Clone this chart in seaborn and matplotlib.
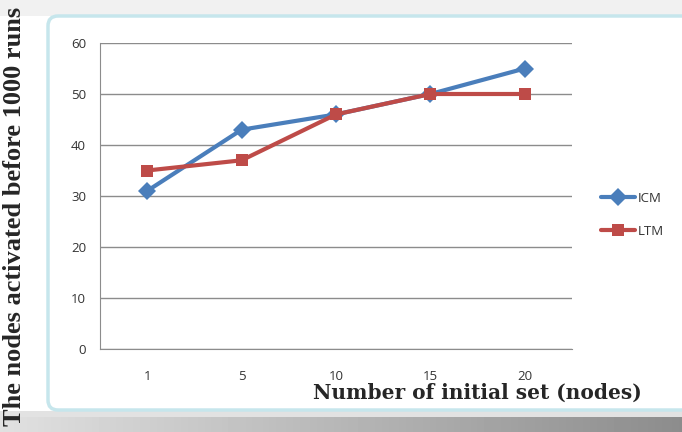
import numpy as np
import pandas as pd
import matplotlib
matplotlib.use("Agg")
import matplotlib.pyplot as plt
from matplotlib.patches import FancyBboxPatch, Rectangle
import seaborn as sns

# chart data
initial_set = ["1", "5", "10", "15", "20"]
icm_values = [31, 43, 46, 50, 55]
ltm_values = [35, 37, 46, 50, 50]
y_ticks = [0, 10, 20, 30, 40, 50, 60]

df = pd.DataFrame({
    "set": initial_set * 2,
    "value": icm_values + ltm_values,
    "model": ["ICM"] * len(icm_values) + ["LTM"] * len(ltm_values),
})

sns.set_style("white")
plt.rcParams["font.family"] = ["Open Sans", "DejaVu Sans"]

W, H = 682, 432
fig = plt.figure(figsize=(W / 100, H / 100), dpi=100)

# background: light top band, gray bottom shadow, rounded chart frame
bg = fig.add_axes([0, 0, 1, 1], zorder=-5)
bg.set_axis_off()
bg.add_patch(Rectangle((0, 0), W, 16, color="#f1f1f1", lw=0))
grad = np.linspace(0.88, 0.55, 200).reshape(1, -1)
bg.imshow(np.repeat(grad, 2, axis=0), cmap="gray", vmin=0, vmax=1,
          extent=(0, W, H, 416), aspect="auto")
bg.add_patch(Rectangle((0, 411), W, 6, color="#e2e2e2", lw=0))
bg.add_patch(FancyBboxPatch((48, 16), W - 48 + 10, 394,
                            boxstyle="round,pad=0,rounding_size=10",
                            facecolor="white", edgecolor="#c6e6ec", lw=2.5))
bg.set_xlim(0, W)
bg.set_ylim(H, 0)

ax = fig.add_axes([100 / W, (H - 349) / H, 472 / W, 306 / H])
palette = {"ICM": "#4a7ebb", "LTM": "#be4b48"}
sns.lineplot(data=df, x="set", y="value", hue="model", style="model",
             palette=palette, markers={"ICM": "D", "LTM": "s"}, dashes=False,
             lw=3, markersize=9, markeredgewidth=0, sort=False, ax=ax)

ax.set_xlim(-0.5, len(initial_set) - 0.5)
ax.set_ylim(0, 60)
ax.set_yticks(y_ticks)
ax.yaxis.grid(True, color="#8c8c8c", lw=1)
ax.set_axisbelow(True)
for s in ["top", "right"]:
    ax.spines[s].set_visible(False)
ax.spines["left"].set_color("#8c8c8c")
ax.spines["bottom"].set_color("#8c8c8c")
ax.tick_params(axis="y", length=4, color="#8c8c8c", labelsize=9.5,
               labelcolor="#333333", pad=6)
ax.tick_params(axis="x", length=0, labelsize=9.5, labelcolor="#333333", pad=15)
ax.set_xlabel("")
ax.set_ylabel("")

leg = ax.legend(loc="center left", bbox_to_anchor=(589 / W, 1 - 215 / H),
                bbox_transform=fig.transFigure, frameon=False, fontsize=9.5,
                handlelength=2.6, labelspacing=1.5, handletextpad=0.2)
for t in leg.get_texts():
    t.set_color("#333333")

fig.text(15 / W, 0.5, "The nodes activated before 1000 runs", rotation=90,
         ha="center", va="center", fontsize=19, fontweight="bold",
         family="Liberation Serif")
fig.text(477 / W, 1 - 393 / H, "Number of initial set (nodes)", ha="center",
         va="center", fontsize=14.5, fontweight="bold", family="DejaVu Serif")

fig.savefig("out.png", dpi=100)
